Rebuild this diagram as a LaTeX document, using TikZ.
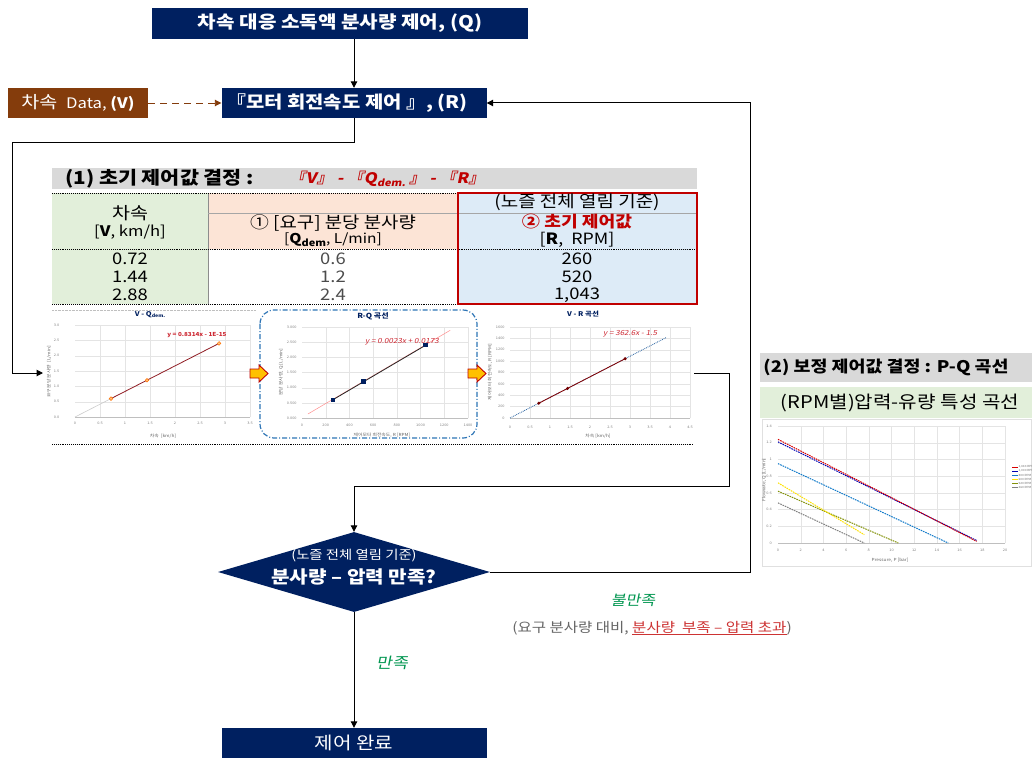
\documentclass[tikz,border=0pt]{standalone}
\usepackage{fontspec}
\setmainfont{Noto Sans CJK KR}[FakeStretch=1.15]
\newfontfamily\krsl{Noto Sans CJK KR}[FakeStretch=1.15,FakeSlant=0.2,BoldFeatures={FakeSlant=0.2}]
\usetikzlibrary{arrows.meta,shapes.geometric}
\definecolor{navy}{RGB}{0,32,96}
\definecolor{brownbox}{RGB}{132,60,12}
\definecolor{hgray}{RGB}{217,217,217}
\definecolor{lgreen}{RGB}{226,239,218}
\definecolor{peach}{RGB}{252,228,214}
\definecolor{lblue}{RGB}{221,235,247}
\definecolor{dred}{RGB}{192,0,0}
\definecolor{okgreen}{RGB}{0,150,80}
\definecolor{bluedash}{RGB}{46,117,182}
\definecolor{arrowyel}{RGB}{255,192,0}
\definecolor{eqred}{RGB}{205,40,50}
\definecolor{gridc}{RGB}{228,228,228}
\newcommand{\myfs}[1]{\fontsize{#1}{#1}\selectfont}
\begin{document}
\begin{tikzpicture}[x=1pt,y=-1pt,
 navybox/.style={fill=navy,text=white,inner sep=0pt,minimum width=265pt,minimum height=30pt},
 arr/.style={line width=1pt,-{Triangle[length=6.5pt,width=6.5pt]}},
 tick/.style={font=\myfs{3.4}, text=black!50, inner sep=0.4pt},
 axlab/.style={font=\myfs{4.2}, text=black!60, inner sep=0.4pt},
 gridl/.style={draw=gridc, line width=0.3pt},
 cell/.style={inner sep=0pt, align=center},
 pq/.style={line width=1pt, dash pattern=on 1.6pt off 0.9pt}]

\useasboundingbox (0,0) rectangle (1032,757);
\fill[white] (0,0) rectangle (1032,757);

% ---------- top boxes ----------
\node[navybox, minimum width=376pt, minimum height=31pt] (top) at (340,23.5) {\bfseries\myfs{17.5}차속 대응 소독액 분사량 제어, (Q)};
\node[navybox] (rbox) at (354,103) {};
\node[text=white, inner sep=0pt] (rtxt) at (347,103) {\bfseries\myfs{17.3}『모터 회전속도 제어 』, (R)};
\node[fill=brownbox, text=white, inner sep=0pt, minimum width=140pt, minimum height=30pt] (vdata) at (78,103) {\myfs{17}차속\ \ \myfs{14.5}Data, \bfseries(V)};

\draw[arr] (top.south -| rbox.north) -- (rbox.north);
\draw[arr, brownbox, line width=0.9pt, dash pattern=on 7pt off 5pt] (vdata.east) -- (rbox.west);

\coordinate (lcorner) at (12,142);
\coordinate (c1in) at (43,373);
\draw[arr] (rbox.south) |- (lcorner) |- (c1in);

% ---------- section (1) header ----------
\fill[hgray] (52,168) rectangle (697,189);
\node[anchor=west, inner sep=0pt] (h1) at (65,179) {\bfseries\myfs{18}(1) 초기 제어값 결정 :};
\node[anchor=west, inner sep=0pt, text=dred] (h1r) at (289,179) {\krsl\bfseries\myfs{14.5}『V』 - 『Q\raisebox{-0.35ex}{\myfs{9.5}dem.} 』 - 『R』};

% ---------- table ----------
\fill[lgreen] (52,193) rectangle (208,304);
\fill[peach] (208,193) rectangle (458,249);
\fill[lblue] (458,193) rectangle (697,304);
\draw[black!45, line width=0.5pt] (208,193) -- (208,304);
\draw[black!35, line width=0.5pt] (208,213) -- (697,213);
\draw[densely dotted, line width=0.9pt] (52,193) -- (697,193);
\draw[densely dotted, line width=0.9pt] (52,249) -- (697,249);
\draw[densely dotted, line width=0.9pt] (52,304) -- (697,304);
\draw[dred, line width=2.2pt] (458,193) rectangle (697,304);

\node[cell] (v0) at (130,213) {\myfs{17}차속};
\node[cell] (v1) at (130,232) {\myfs{14.5}[\textbf{V}, km/h]};
\node[cell] (q0) at (333,223) {\myfs{16.4}① [요구] 분당 분사량};
\node[cell] (q1) at (333,240) {\myfs{13.5}[\textbf{Q}\raisebox{-0.3ex}{\myfs{9.5}\bfseries dem}, L/min]};
\node[cell] (r00) at (577,202) {\myfs{16.5}(노즐 전체 열림 기준)};
\node[cell, text=dred] (r0) at (577,222) {\bfseries\myfs{15.8}② 초기 제어값};
\node[cell] (r1) at (577,240) {\myfs{15.5}[\textbf{R},\ \ RPM]};
\node[cell] (d11) at (130,259) {\myfs{16}0.72};
\node[cell] (d21) at (130,277) {\myfs{16}1.44};
\node[cell] (d31) at (130,295) {\myfs{16}2.88};
\node[cell, text=black!70] (d12) at (333,259) {\myfs{16}0.6};
\node[cell, text=black!70] (d22) at (333,277) {\myfs{16}1.2};
\node[cell, text=black!70] (d32) at (333,295) {\myfs{16}2.4};
\node[cell] (d13) at (577,259) {\myfs{16}260};
\node[cell] (d23) at (577,277) {\myfs{16}520};
\node[cell] (d33) at (577,295) {\myfs{16}1,043};

% ---------- charts strip ----------
\draw[black!25, densely dotted] (52,310) -- (256,310);
\draw[densely dotted, line width=0.9pt] (52,444) -- (694,444);

% chart 1 : V - Qdem
\node[font=\bfseries\myfs{6.5}, text=navy] (c1t) at (150,315) {V - Q\raisebox{-0.3ex}{\myfs{4.5}dem.}};
\begin{scope}[shift={(75,417)}, x=50pt, y=30.667pt]
\foreach \i in {0.5,1,...,3.5} \draw[gridl] (\i,0) -- (\i,3);
\foreach \j in {0.5,1,...,3} \draw[gridl] (0,\j) -- (3.5,\j);
\draw[black!25, line width=0.4pt] (0,0) -- (3.5,0);
\foreach \l in {0,0.5,1,1.5,2,2.5,3,3.5} \node[tick] at (\l,-0.2) {\l};
\foreach \l in {0.0,0.5,1.0,1.5,2.0,2.5,3.0} \node[tick, anchor=east] at (-0.3,\l) {\l};
\draw[black!20, line width=0.6pt] (0,0) -- (0.72,0.6);
\draw[eqred!70!black, line width=0.8pt] (0.72,0.6) -- (2.88,2.4);
\foreach \p in {(0.72,0.6),(1.44,1.2),(2.88,2.4)} \draw[orange!90!red, fill=orange!50, line width=0.5pt] \p circle (1.8pt);
\node[text=eqred, font=\bfseries\myfs{5.5}] at (2.44,2.67) {y = 0.8314x - 1E-15};
\end{scope}
\node[axlab] at (163,436) {차속\ \ [km/h]};
\node[axlab, rotate=90] at (49,372) {요구 분당 분사량\ \ [L/min]};

% chart 2 : R - Q
\draw[bluedash, line width=1.2pt, dash pattern=on 5pt off 2pt on 1pt off 2pt, rounded corners=14pt] (260,310) rectangle (477,438);
\node[font=\bfseries\myfs{7}, text=navy] (c2t) at (373,316) {R-Q 곡선};
\begin{scope}[shift={(302,418)}, x=0.11857pt, y=30.33pt]
\foreach \i in {200,400,...,1400} \draw[gridl] (\i,0) -- (\i,3);
\foreach \j in {0.5,1,...,3} \draw[gridl] (0,\j) -- (1400,\j);
\draw[black!25, line width=0.4pt] (0,0) -- (1400,0);
\foreach \l in {0,200,400,600,800,1000,1200,1400} \node[tick] at (\l,-0.23) {\l};
\foreach \j/\l in {0/0.000,0.5/0.500,1/1.000,1.5/1.500,2/2.000,2.5/2.500,3/3.000} \node[tick, anchor=east] at (-40,\j) {\l};
\draw[red!45, line width=0.5pt] (50,0.1323) -- (1250,2.8923);
\draw[black!85, line width=0.8pt] (260,0.6) -- (1043,2.4);
\foreach \p in {(260,0.6),(520,1.2),(1043,2.4)} \fill[navy] \p ++(-2.2pt,-2.2pt) rectangle ++(4.4pt,4.4pt);
\node[text=eqred, font=\krsl\myfs{7}] at (843,2.5) {y = 0.0023x + 0.0173};
\end{scope}
\node[axlab] at (382,435) {제어모터 회전속도, R [RPM]};
\node[axlab, rotate=90] at (281,372) {분당 분사량, Q [L/min]};

% chart 3 : V - R
\node[font=\bfseries\myfs{6.5}, text=navy] (c3t) at (583,314) {V - R 곡선};
\begin{scope}[shift={(510,418)}, x=40pt, y=0.056875pt]
\foreach \i in {0.5,1,...,4.5} \draw[gridl] (\i,0) -- (\i,1600);
\foreach \j in {200,400,...,1600} \draw[gridl] (0,\j) -- (4.5,\j);
\draw[black!25, line width=0.4pt] (0,0) -- (4.5,0);
\foreach \l in {0,0.5,1,1.5,2,2.5,3,3.5,4,4.5} \node[tick] at (\l,-160) {\l};
\foreach \l in {0,200,400,600,800,1000,1200,1400,1600} \node[tick, anchor=east] at (-0.12,\l) {\l};
\draw[bluedash!70!navy, line width=0.8pt, densely dotted] (0,0) -- (3.9,1412.6);
\draw[dred!70!black, line width=0.8pt] (0.72,260) -- (2.88,1043);
\foreach \p in {(0.72,260),(1.44,520),(2.88,1043)} \fill[dred!60!black] \p circle (1.7pt);
\node[text=eqred, font=\krsl\myfs{7}] at (3.0,1477) {y = 362.6x - 1.5};
\end{scope}
\node[axlab] at (598,436) {차속 [km/h]};
\node[axlab, rotate=90] at (490,372) {제어모터 회전속도, R [RPM]};

% block arrows between charts
\foreach \x in {250,468} \draw[dred, fill=arrowyel, line width=0.9pt, line join=miter] (\x,369) -- (\x+9,369) -- (\x+9,365) -- (\x+18,373.5) -- (\x+9,382) -- (\x+9,378) -- (\x,378) -- cycle;

% ---------- section (2) ----------
\fill[hgray] (760,353) rectangle (1032,382);
\node (h2) at (886,367) {\bfseries\myfs{16}(2) 보정 제어값 결정 : P-Q 곡선};
\fill[lgreen] (760,387) rectangle (1032,418);
\node (h2g) at (900,403) {\myfs{17.5}(RPM별)압력-유량 특성 곡선};
\draw[black!12] (762,419) rectangle (1031,566);
\begin{scope}[shift={(778,543)}, x=11.35pt, y=83.57pt]
\foreach \i in {2,4,...,20} \draw[gridl] (\i,0) -- (\i,1.4);
\foreach \j in {0.2,0.4,...,1.4} \draw[gridl] (0,\j) -- (20,\j);
\draw[black!25, line width=0.4pt] (0,0) -- (20,0);
\foreach \l in {0,2,4,6,8,10,12,14,16,18,20} \node[tick] at (\l,-0.09) {\l};
\foreach \j/\l in {0/0,0.2/0.2,0.4/0.4,0.6/0.6,0.8/0.8,1/1,1.2/1.2,1.4/1.4} \node[tick, anchor=east] at (-0.5,\j) {\l};
\draw[pq, gray] (0,0.48) -- (7.6,0);
\draw[pq, olive!80!green] (0,0.62) -- (10.6,0);
\draw[pq, yellow!85!orange] (0,0.72) -- (7.6,0.1);
\draw[pq, cyan!60!blue] (0,0.95) -- (15,0);
\draw[pq, blue!70!black] (0,1.21) -- (17.5,0.03);
\draw[pq, red!85!black] (0,1.24) -- (17.5,0.02);
\end{scope}
\node[axlab] at (890,560) {Pressure, P [bar]};
\node[axlab, rotate=90] at (764,480) {Flowrate, Q [L/min]};
\foreach \c/\t [count=\k] in {red!85!black/{1,043 RPM}, blue!70!black/{1,000 RPM}, cyan!60!blue/{800 RPM}, yellow!85!orange/{600 RPM}, olive!80!green/{520 RPM}, gray/{260 RPM}}
 { \draw[\c, line width=0.8pt] (1012,463+4*\k) -- (1018,463+4*\k);
   \node[anchor=west, inner sep=0.3pt, font=\myfs{2.8}, text=black!55] at (1018,463+4*\k) {\t}; }

% ---------- decision ----------
\coordinate (vrout) at (694,373);
\node[diamond, fill=navy, minimum width=272pt, minimum height=80pt, inner sep=0pt] (dia) at (354,572) {};
\node[text=white, inner sep=0pt] (dia1) at (354,556) {\myfs{12.5}(노즐 전체 열림 기준)};
\node[text=white, inner sep=0pt] (dia2) at (354,577) {\bfseries\myfs{17.5}분사량 – 압력 만족?};
\draw[arr] (vrout) -| (729,486) -| (dia.north);
\draw[arr] (dia.east) -- (750,572) |- (rbox.east);

\node[navybox] (done) at (354,743) {\myfs{17.5}제어 완료};
\draw[arr] (dia.south) -- (done.north);

\node[text=okgreen, inner sep=0pt] (ok) at (392,663) {\krsl\myfs{15}만족};
\node[text=okgreen, inner sep=0pt] (nok) at (633,600) {\krsl\myfs{14}불만족};
\node[inner sep=0pt] (nokd) at (652,628) {\myfs{13.5}\color{black!60}(요구 분사량 대비, \color{dred!80}\underline{분사량\ \ 부족 – 압력 초과}\color{black!60})};
\end{tikzpicture}
\end{document}
